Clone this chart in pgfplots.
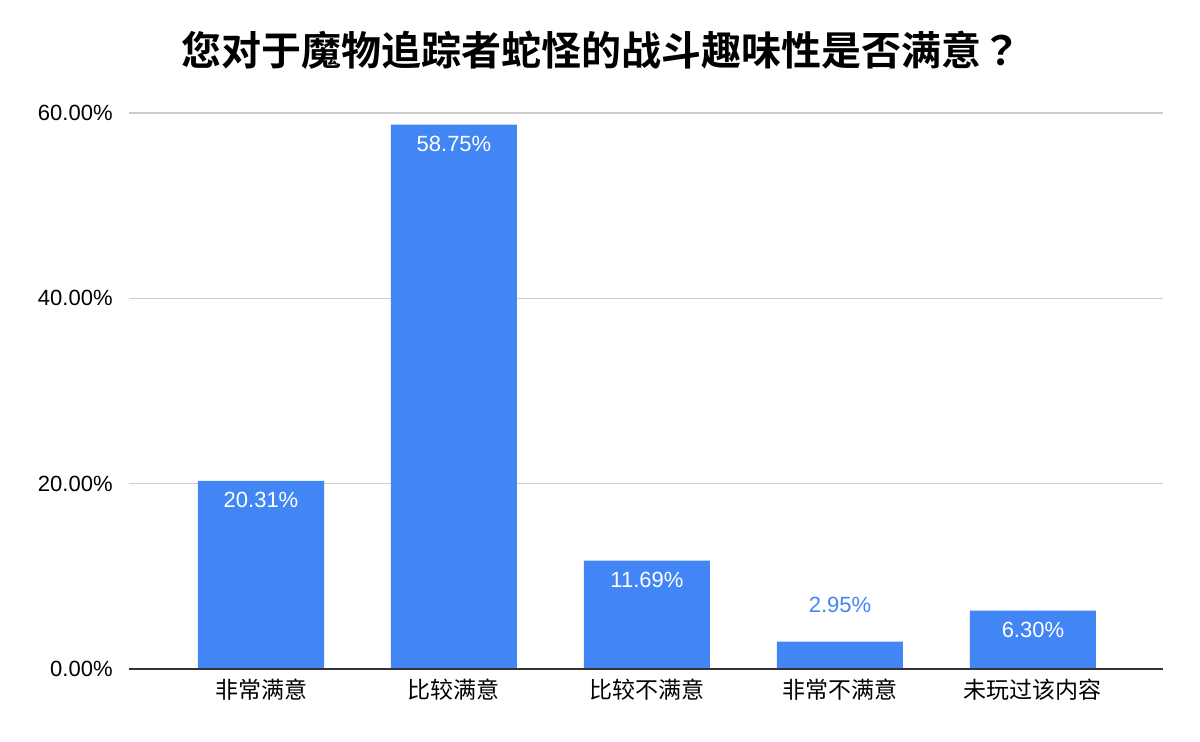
\documentclass[border=0pt]{standalone}
\usepackage{pgfplots}
\pgfplotsset{compat=1.18}
\usepackage{fontspec}
\setmainfont{Liberation Sans}
\newfontfamily\cjk[BoldFont={Noto Sans CJK SC Bold}]{Noto Sans CJK SC}
\newfontfamily\cjktc[BoldFont={Noto Sans CJK TC Bold}]{Noto Sans CJK TC}
\definecolor{barblue}{HTML}{4285F4}
\definecolor{gridgray}{HTML}{CCCCCC}
\definecolor{axisgray}{HTML}{333333}
\begin{document}
\begin{tikzpicture}
\begin{axis}[
  at={(64.5pt,36.5pt)}, anchor=south west,
  scale only axis, width=517pt, height=278pt,
  xmin=-0.684, xmax=4.674, ymin=0, ymax=60,
  axis line style={draw=none},
  major tick length=0pt,
  ymajorgrids, grid style={gridgray, line width=0.6pt},
  ytick={0,20,40,60},
  yticklabels={0.00\%,20.00\%,40.00\%,60.00\%},
  yticklabel style={anchor=east, inner sep=0pt, xshift=-8pt, font=\fontsize{11}{13}\selectfont},
  xtick={0,1,2,3,4},
  xticklabels={非常满意,比较满意,比较不满意,非常不满意,未玩过该内容},
  xticklabel style={anchor=center, inner sep=0pt, yshift=-10.5pt, font=\cjk\fontsize{11.5}{13}\selectfont},
  clip=false,
]
\addplot[ybar, bar width=0.653, fill=barblue, draw=none] coordinates {
  (0,20.31) (1,58.75) (2,11.69) (3,2.95) (4,6.30)
};
\addplot[only marks, mark=none, point meta=explicit symbolic,
  nodes near coords,
  every node near coord/.style={anchor=center, yshift=-9.75pt, text=white, font=\fontsize{11}{13}\selectfont}]
  coordinates {
  (0,20.31) [20.31\%]
  (1,58.75) [58.75\%]
  (2,11.69) [11.69\%]
  (4,6.30) [6.30\%]
};
\addplot[only marks, mark=none, point meta=explicit symbolic,
  nodes near coords,
  every node near coord/.style={anchor=center, yshift=18.5pt, text=barblue, font=\fontsize{11}{13}\selectfont}]
  coordinates {
  (3,2.95) [2.95\%]
};
\draw[axisgray, line width=1pt] (rel axis cs:0,0) -- (rel axis cs:1,0);
\end{axis}
\node[font=\cjk\bfseries\fontsize{20}{24}\selectfont, anchor=center] at (300.5pt,346pt) {您对于魔物追踪者蛇怪的战斗趣味性是否满意{\cjktc\bfseries ？}};
\pgfresetboundingbox
\path[use as bounding box] (0,0) rectangle (600pt,371pt);
\end{tikzpicture}
\end{document}
